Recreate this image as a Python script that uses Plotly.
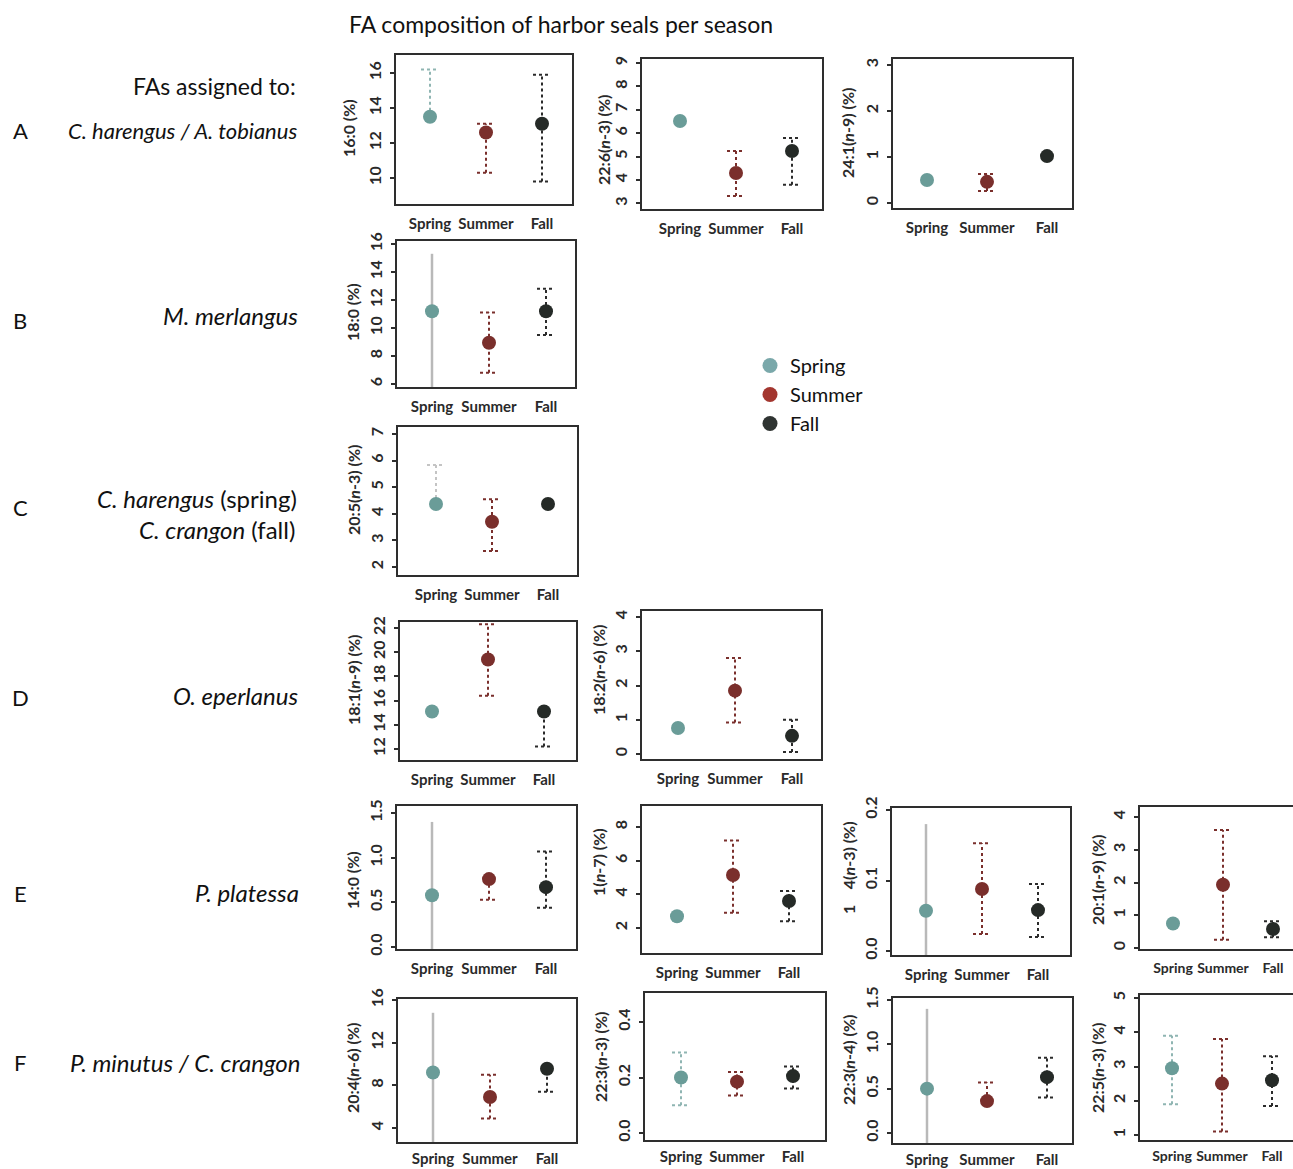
import plotly.graph_objects as go

W, H = 1293, 1169

SEASONS = ["Spring", "Summer", "Fall"]

# ---- data (None = not shown) ----
fa16_0_mean = [13.5, 12.6, 13.1]
fa16_0_lo = [None, 10.3, 9.8]
fa16_0_hi = [16.2, 13.1, 15.9]

fa22_6n3_mean = [6.52, 4.3, 5.24]
fa22_6n3_lo = [None, 3.32, 3.8]
fa22_6n3_hi = [None, 5.24, 5.8]

fa24_1n9_mean = [0.5, 0.46, 1.02]
fa24_1n9_lo = [None, 0.26, None]
fa24_1n9_hi = [None, 0.63, None]

fa18_0_mean = [11.2, 8.95, 11.2]
fa18_0_lo = [5.4, 6.8, 9.5]
fa18_0_hi = [15.3, 11.1, 12.8]

fa20_5n3_mean = [4.37, 3.7, 4.37]
fa20_5n3_lo = [None, 2.6, None]
fa20_5n3_hi = [5.83, 4.55, None]

fa18_1n9_mean = [15.1, 19.4, 15.1]
fa18_1n9_lo = [None, 16.4, 12.2]
fa18_1n9_hi = [None, 22.3, None]

fa18_2n6_mean = [0.76, 1.85, 0.53]
fa18_2n6_lo = [None, 0.92, 0.06]
fa18_2n6_hi = [None, 2.8, 1.0]

fa14_0_mean = [0.58, 0.76, 0.67]
fa14_0_lo = [-0.1, 0.53, 0.44]
fa14_0_hi = [1.40, None, 1.07]

fa1n7_mean = [2.7, 5.15, 3.6]
fa1n7_lo = [None, 2.9, 2.4]
fa1n7_hi = [None, 7.2, 4.2]

fa4n3_mean = [0.057, 0.088, 0.058]
fa4n3_lo = [-0.02, 0.024, 0.02]
fa4n3_hi = [0.18, 0.153, 0.095]

fa20_1n9_mean = [0.75, 1.93, 0.58]
fa20_1n9_lo = [None, 0.25, 0.33]
fa20_1n9_hi = [None, 3.6, 0.82]

fa20_4n6_mean = [9.2, 6.9, 9.55]
fa20_4n6_lo = [2.5, 4.9, 7.4]
fa20_4n6_hi = [14.8, 9.0, None]

fa22_3n3_mean = [0.2, 0.185, 0.205]
fa22_3n3_lo = [0.1, 0.135, 0.16]
fa22_3n3_hi = [0.29, 0.22, 0.24]

fa22_3n4_mean = [0.5, 0.36, 0.63]
fa22_3n4_lo = [-0.15, None, 0.4]
fa22_3n4_hi = [1.4, 0.57, 0.85]

fa22_5n3_mean = [2.95, 2.5, 2.6]
fa22_5n3_lo = [1.9, 1.1, 1.85]
fa22_5n3_hi = [3.9, 3.8, 3.3]

# ---- styles ----
PT_COL = ["#6a9c98", "#7a2f2c", "#252a27"]
ERR_COL = ["#8fb5b2", "#7a2f2c", "#2b2b2b"]
LEG_COL = ["#7aa8aa", "#a3362f", "#2f3432"]
GHOST = "#b9b9b9"
TXT = "#2a2a2a"
FONT = "Lato"
AXFONT = "Lato"

# box = (left, top, right, bottom) in px; yref = (v_top, px_top, v_bot, px_bot)
PANELS = [
    dict(m=fa16_0_mean, lo=fa16_0_lo, hi=fa16_0_hi, box=(396, 55, 572, 204),
         ticks=[10, 12, 14, 16], fmt="d", yref=(16, 73, 10, 178), xs=430, dx=56,
         title="16:0 (%)", tpos=(348, 128), sp="dot"),
    dict(m=fa22_6n3_mean, lo=fa22_6n3_lo, hi=fa22_6n3_hi, box=(642, 59, 822, 209),
         ticks=[3, 4, 5, 6, 7, 8, 9], fmt="d", yref=(9, 63, 4, 180), xs=680, dx=56,
         title="22:6(<i>n</i>-3) (%)", tpos=(603, 140), sp="dot"),
    dict(m=fa24_1n9_mean, lo=fa24_1n9_lo, hi=fa24_1n9_hi, box=(893, 59, 1072, 208),
         ticks=[0, 1, 2, 3], fmt="d", yref=(3, 65, 0, 203), xs=927, dx=60,
         title="24:1(<i>n</i>-9) (%)", tpos=(847, 133), sp="dot"),
    dict(m=fa18_0_mean, lo=fa18_0_lo, hi=fa18_0_hi, box=(397, 241, 575, 387),
         ticks=[6, 8, 10, 12, 14, 16], fmt="d", yref=(16, 244, 6, 384), xs=432, dx=57,
         title="18:0 (%)", tpos=(352, 312), sp="solid"),
    dict(m=fa20_5n3_mean, lo=fa20_5n3_lo, hi=fa20_5n3_hi, box=(398, 427, 577, 575),
         ticks=[2, 3, 4, 5, 6, 7], fmt="d", yref=(7, 434, 2, 567), xs=436, dx=56,
         title="20:5(<i>n</i>-3) (%)", tpos=(354, 490), sp="dotgray"),
    dict(m=fa18_1n9_mean, lo=fa18_1n9_lo, hi=fa18_1n9_hi, box=(400, 622, 576, 760),
         ticks=[12, 14, 16, 18, 20, 22], fmt="d", yref=(22, 628, 12, 749), xs=432, dx=56,
         title="18:1(<i>n</i>-9) (%)", tpos=(353, 680), sp="dot"),
    dict(m=fa18_2n6_mean, lo=fa18_2n6_lo, hi=fa18_2n6_hi, box=(642, 611, 821, 759),
         ticks=[0, 1, 2, 3, 4], fmt="d", yref=(4, 617, 0, 754), xs=678, dx=57,
         title="18:2(<i>n</i>-6) (%)", tpos=(598, 670), sp="dot"),
    dict(m=fa14_0_mean, lo=fa14_0_lo, hi=fa14_0_hi, box=(397, 806, 576, 949),
         ticks=[0, 0.5, 1.0, 1.5], fmt=".1f", yref=(1.5, 813, 0, 947), xs=432, dx=57,
         title="14:0 (%)", tpos=(352, 880), sp="solid"),
    dict(m=fa1n7_mean, lo=fa1n7_lo, hi=fa1n7_hi, box=(642, 806, 821, 953),
         ticks=[2, 4, 6, 8], fmt="d", yref=(8, 827, 2, 928), xs=677, dx=56,
         title="1(<i>n</i>-7) (%)", tpos=(598, 862), sp="dot"),
    dict(m=fa4n3_mean, lo=fa4n3_lo, hi=fa4n3_hi, box=(892, 808, 1070, 955),
         ticks=[0, 0.1, 0.2], fmt=".1f", yref=(0.2, 810, 0, 951), xs=926, dx=56,
         title="1    4(<i>n</i>-3) (%)", tpos=(848, 868), sp="solid"),
    dict(m=fa20_1n9_mean, lo=fa20_1n9_lo, hi=fa20_1n9_hi, box=(1140, 807, 1293, 949),
         ticks=[0, 1, 2, 3, 4], fmt="d", yref=(4, 817, 0, 948), xs=1173, dx=50,
         title="20:1(<i>n</i>-9) (%)", tpos=(1097, 880), sp="dot", small=True),
    dict(m=fa20_4n6_mean, lo=fa20_4n6_lo, hi=fa20_4n6_hi, box=(398, 999, 576, 1142),
         ticks=[4, 8, 12, 16], fmt="d", yref=(16, 1000, 4, 1128), xs=433, dx=57,
         title="20:4(<i>n</i>-6) (%)", tpos=(352, 1068), sp="solid", low=True),
    dict(m=fa22_3n3_mean, lo=fa22_3n3_lo, hi=fa22_3n3_hi, box=(645, 993, 825, 1140),
         ticks=[0, 0.2, 0.4], fmt=".1f", yref=(0.4, 1022, 0, 1133), xs=681, dx=56,
         title="22:3(<i>n</i>-3) (%)", tpos=(600, 1057), sp="dot", low=True),
    dict(m=fa22_3n4_mean, lo=fa22_3n4_lo, hi=fa22_3n4_hi, box=(893, 998, 1072, 1143),
         ticks=[0, 0.5, 1.0, 1.5], fmt=".1f", yref=(1.5, 1000, 0, 1133), xs=927, dx=60,
         title="22:3(<i>n</i>-4) (%)", tpos=(848, 1060), sp="solid", low=True),
    dict(m=fa22_5n3_mean, lo=fa22_5n3_lo, hi=fa22_5n3_hi, box=(1140, 995, 1293, 1140),
         ticks=[1, 2, 3, 4, 5], fmt="d", yref=(5, 998, 1, 1135), xs=1172, dx=50,
         title="22:5(<i>n</i>-3) (%)", tpos=(1097, 1068), sp="dot", small=True, low=True),
]

fig = go.Figure()
layout = {}
annotations = []

for k, p in enumerate(PANELS, start=1):
    sfx = "" if k == 1 else str(k)
    xref, yref = "x" + sfx, "y" + sfx
    left, top, right, bottom = p["box"]
    v1, p1, v2, p2 = p["yref"]
    s = (v1 - v2) / (p2 - p1)
    y_top = v1 + (p1 - top) * s
    y_bot = v2 - (bottom - p2) * s
    x0 = 1 - (p["xs"] - left) / p["dx"]
    x1 = 1 + (right - p["xs"]) / p["dx"]
    cap = 9.0 / p["dx"]

    # error bars (dotted, drawn from the data values)
    for i in range(3):
        lo, hi, m = p["lo"][i], p["hi"][i], p["m"][i]
        if lo is None and hi is None:
            continue
        xc = i + 1
        l = lo if lo is not None else m
        h = hi if hi is not None else m
        xs_, ys_ = [xc, xc], [l, h]
        if i == 0 and p["sp"] == "solid":
            color, dash, width, caps = GHOST, "solid", 2.5, False
        elif i == 0 and p["sp"] == "dotgray":
            color, dash, width, caps = "#c4c4c4", "dot", 2, True
        else:
            color, dash, width, caps = ERR_COL[i], "dot", 2, True
        if caps:
            if lo is not None:
                xs_ += [None, xc - cap, xc + cap]
                ys_ += [None, lo, lo]
            if hi is not None:
                xs_ += [None, xc - cap, xc + cap]
                ys_ += [None, hi, hi]
        fig.add_trace(go.Scatter(
            x=xs_, y=ys_, mode="lines", xaxis=xref, yaxis=yref,
            line=dict(color=color, dash=dash, width=width),
            showlegend=False, hoverinfo="skip"))

    # means
    fig.add_trace(go.Scatter(
        x=[1, 2, 3], y=p["m"], mode="markers", xaxis=xref, yaxis=yref,
        marker=dict(color=PT_COL, size=14, line=dict(width=0)),
        showlegend=False, cliponaxis=False))

    xfs = 14 if p.get("small") else 15
    layout["xaxis" + sfx] = dict(
        domain=[left / W, min(right / W, 1.0)], range=[x0, x1], anchor=yref,
        tickvals=[1, 2, 3], ticktext=SEASONS, ticks="", tickangle=0,
        ticklabelstandoff=2 if p.get("low") else 5, automargin=False,
        tickfont=dict(family=AXFONT, size=xfs, color=TXT, weight=700),
        showline=True, mirror=True, linecolor="#2e2e2e", linewidth=2,
        showgrid=False, zeroline=False, fixedrange=True)
    layout["yaxis" + sfx] = dict(
        domain=[1 - bottom / H, 1 - top / H], range=[y_bot, y_top], anchor=xref,
        tickvals=p["ticks"], tickformat=p["fmt"], tickangle=-90,
        ticks="outside", ticklen=4, tickwidth=1.5, tickcolor="#2e2e2e",
        ticklabelstandoff=3, automargin=False,
        tickfont=dict(family=AXFONT, size=16, color=TXT, weight=700),
        showline=True, mirror=True, linecolor="#2e2e2e", linewidth=2,
        showgrid=False, zeroline=False, fixedrange=True)

    tx, ty = p["tpos"]
    annotations.append(dict(
        x=tx / W, y=1 - ty / H, xref="paper", yref="paper", text=p["title"],
        textangle=-90, showarrow=False, xanchor="center", yanchor="middle",
        font=dict(family=AXFONT, size=16, color=TXT, weight=700)))

# legend entries
for i, sname in enumerate(SEASONS):
    fig.add_trace(go.Scatter(
        x=[None], y=[None], mode="markers", name=sname,
        marker=dict(color=LEG_COL[i], size=15), showlegend=True))

# title and row labels
annotations.append(dict(
    x=561 / W, y=1 - 24 / H, xref="paper", yref="paper",
    text="FA composition of harbor seals per season", showarrow=False,
    xanchor="center", yanchor="middle", font=dict(family=FONT, size=23, color="#111")))

ROW_LETTERS = ["A", "B", "C", "D", "E", "F"]
ROW_LETTER_Y = [131, 320, 507, 697, 893, 1062]
ROW_NAMES = [
    ("<i>C. harengus / A. tobianus</i>", 299, 131, 22),
    ("<i>M. merlangus</i>", 300, 315, 24),
    ("<i>C. harengus</i> (spring)", 299, 498, 24),
    ("<i>C. crangon</i> (fall)", 297, 529, 24),
    ("<i>O. eperlanus</i>", 300, 695, 24),
    ("<i>P. platessa</i>", 301, 892, 24),
    ("<i>P. minutus / C. crangon</i>", 303, 1062, 24),
]
annotations.append(dict(
    x=298 / W, y=1 - 86 / H, xref="paper", yref="paper", text="FAs assigned to:",
    showarrow=False, xanchor="right", yanchor="middle",
    font=dict(family=FONT, size=23, color="#111")))
for letter, ly in zip(ROW_LETTERS, ROW_LETTER_Y):
    annotations.append(dict(
        x=20 / W, y=1 - ly / H, xref="paper", yref="paper", text=letter,
        showarrow=False, xanchor="center", yanchor="middle",
        font=dict(family=FONT, size=22, color="#111")))
for txt, rx, ry, fs in ROW_NAMES:
    annotations.append(dict(
        x=rx / W, y=1 - ry / H, xref="paper", yref="paper", text=txt,
        showarrow=False, xanchor="right", yanchor="middle",
        font=dict(family=FONT, size=fs, color="#111")))

fig.update_layout(
    width=W, height=H, margin=dict(l=0, r=0, t=0, b=0, autoexpand=False),
    paper_bgcolor="white", plot_bgcolor="white",
    annotations=annotations,
    legend=dict(x=750 / W, y=1 - 346 / H, xanchor="left", yanchor="top",
                font=dict(family=FONT, size=20, color="#111"),
                bgcolor="rgba(0,0,0,0)", itemclick=False, tracegroupgap=0),
    **layout)

fig.write_html(
    "out.html",
    config={"displayModeBar": False},
    post_script="document.body.style.margin='0';document.body.style.overflow='hidden';")
